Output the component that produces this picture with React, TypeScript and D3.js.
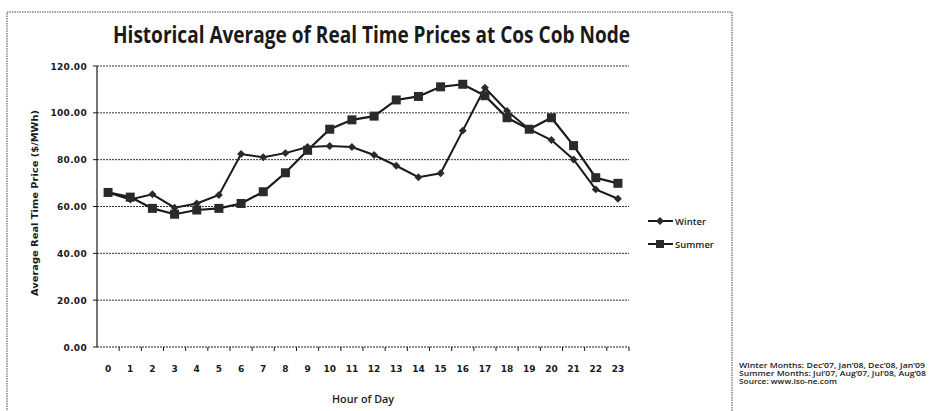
import React from "react";
import * as d3 from "d3";

const hours = d3.range(0, 24).map(String);
const winter = [66, 63, 65.2, 59.5, 61.3, 64.9, 82.4, 81, 82.8, 85.4, 85.8, 85.4, 82, 77.4, 72.5, 74.2, 92.4, 110.7, 100.8, 93, 88.4, 80.1, 67.3, 63.3];
const summer = [66, 64, 59.2, 56.7, 58.5, 59.2, 61.3, 66.3, 74.4, 84, 93, 97, 98.6, 105.5, 107, 111.1, 112.2, 107.3, 97.9, 93, 97.9, 86, 72.3, 69.9];
const yTicks = [0, 20, 40, 60, 80, 100, 120];
const notes = [
  "Winter Months: Dec\u201907, Jan\u201908, Dec\u201908, Jan\u201909",
  "Summer Months: Jul\u201907, Aug\u201907, Jul\u201908, Aug\u201908",
  "Source: www.iso-ne.com",
];
const noteLengths = [186, 187, 98];

export default function App() {
  const W = 936, H = 411;
  const left = 97, right = 629, top = 66, bottom = 347;
  const x = d3.scaleBand().domain(hours).range([left, right]);
  const y = d3.scaleLinear().domain([0, 120]).range([bottom, top]);
  const cx = (i: number) => (x(hours[i]) as number) + x.bandwidth() / 2;
  const line = d3.line<number>().x((_, i) => cx(i)).y((d) => y(d));
  const ink = "#1a1a1a";
  const tickFont = "Verdana, 'DejaVu Sans', sans-serif";
  return (
    <svg width={W} height={H} style={{ position: "absolute", left: 0, top: 0, background: "#fff" }}>
      <rect x={7} y={12} width={725} height={420} fill="none" stroke="#444" strokeWidth={1} strokeDasharray="1.5 1" />
      <text x={113} y={43} textLength={517} lengthAdjust="spacingAndGlyphs" fontFamily="'Open Sans', sans-serif" fontWeight={700} fontSize={23} fill={ink}>
        Historical Average of Real Time Prices at Cos Cob Node
      </text>
      {yTicks.map((t) => (
        <g key={t}>
          {t > 0 && (
            <line x1={left} x2={right} y1={y(t)} y2={y(t)} stroke="#333" strokeWidth={1} strokeDasharray="2 1" />
          )}
          <line x1={left - 4} x2={left} y1={y(t)} y2={y(t)} stroke={ink} />
          <text x={87} y={y(t) + 3.5} textAnchor="end" fontFamily={tickFont} fontWeight={700} fontSize={9} letterSpacing={0.3} fill={ink}>
            {t.toFixed(2)}
          </text>
        </g>
      ))}
      <line x1={left} x2={left} y1={top} y2={bottom} stroke={ink} strokeWidth={1.2} />
      <line x1={left} x2={right} y1={bottom} y2={bottom} stroke={ink} strokeWidth={1} strokeDasharray="2 1" />
      {hours.map((h, i) => (
        <g key={h}>
          <line x1={(x(h) as number) + x.bandwidth()} x2={(x(h) as number) + x.bandwidth()} y1={bottom} y2={bottom + 4} stroke={ink} />
          <text x={cx(i)} y={372} textAnchor="middle" fontFamily={tickFont} fontWeight={700} fontSize={9} fill={ink}>
            {h}
          </text>
        </g>
      ))}
      <text x={363} y={403} textAnchor="middle" textLength={62} lengthAdjust="spacingAndGlyphs" fontFamily="'Open Sans', sans-serif" fontWeight={600} fontSize={10.5} fill={ink}>
        Hour of Day
      </text>
      <text transform={`translate(38,203) rotate(-90)`} textAnchor="middle" textLength={186} lengthAdjust="spacingAndGlyphs" fontFamily={tickFont} fontWeight={700} fontSize={9} fill={ink}>
        Average Real Time Price ($/MWh)
      </text>
      <path d={line(summer) as string} fill="none" stroke={ink} strokeWidth={2.2} />
      <path d={line(winter) as string} fill="none" stroke={ink} strokeWidth={2} />
      {summer.map((v, i) => (
        <rect key={"s" + i} x={cx(i) - 4.5} y={y(v) - 4.5} width={9} height={9} fill="#2a2a2a" />
      ))}
      {winter.map((v, i) => (
        <path key={"w" + i} d={d3.symbol(d3.symbolDiamond2, 40)() as string} transform={`translate(${cx(i)},${y(v)})`} fill="#2a2a2a" />
      ))}
      <g>
        <line x1={648} x2={673} y1={221} y2={221} stroke={ink} strokeWidth={2} />
        <path d={d3.symbol(d3.symbolDiamond2, 40)() as string} transform="translate(660,221)" fill="#2a2a2a" />
        <text x={675} y={224.5} fontFamily="'Open Sans', sans-serif" fontWeight={600} fontSize={9.5} fill={ink}>Winter</text>
        <line x1={648} x2={673} y1={244} y2={244} stroke={ink} strokeWidth={2} />
        <rect x={656} y={240} width={8} height={8} fill="#2a2a2a" />
        <text x={675} y={247.5} fontFamily="'Open Sans', sans-serif" fontWeight={600} fontSize={9.5} fill={ink}>Summer</text>
      </g>
      {notes.map((n, i) => (
        <text key={n} x={739} y={367.5 + i * 8} textLength={noteLengths[i]} lengthAdjust="spacingAndGlyphs" fontFamily="'Open Sans', sans-serif" fontWeight={600} fontSize={6.6} fill={ink}>
          {n}
        </text>
      ))}
    </svg>
  );
}
